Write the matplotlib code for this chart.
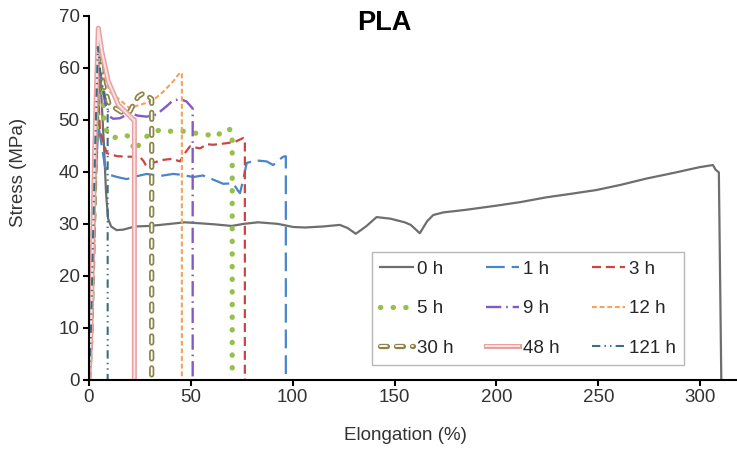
import matplotlib
matplotlib.use("Agg")
import matplotlib.pyplot as plt
import matplotlib.patheffects as pe

plt.rcParams['font.family'] = ['Liberation Sans', 'DejaVu Sans']
plt.rcParams['lines.scale_dashes'] = False

labels = ["0 h", "1 h", "3 h", "5 h", "9 h", "12 h", "30 h", "48 h", "121 h"]

x0 = [0, 1, 2.5, 4.5, 6, 7.5, 8.5, 9.5, 11, 13.7, 17, 22.7, 30, 40, 47.2, 55, 62, 70.1, 76, 83.1, 92.8,
      100.3, 106, 115, 123.2, 127, 131, 136, 141.2, 148, 155, 158, 162.4, 166, 169, 173.9, 185, 200,
      212, 224.5, 237, 249, 261, 273.5, 287, 299.7, 306.2, 307.5, 309.1, 310.3]
y0 = [0, 10, 35, 60, 56, 45, 36, 31, 29.5, 28.8, 28.9, 29.5, 29.6, 30, 30.3, 30.1, 29.9, 29.6, 30, 30.3, 30,
      29.4, 29.3, 29.5, 29.8, 29.2, 28.1, 29.5, 31.3, 31, 30.3, 29.8, 28.2, 30.5, 31.7, 32.2, 32.7, 33.5,
      34.2, 35.1, 35.8, 36.5, 37.5, 38.7, 39.8, 40.9, 41.3, 40.4, 39.9, 0]

x1 = [0, 1, 3, 4.7, 6, 8, 10.4, 14, 18.6, 23, 28.4, 35, 41.5, 46, 51.3, 56, 61.1, 66, 70.9, 73, 74.2,
      75.5, 77.5, 82, 87.3, 90.5, 93, 95.4, 96.7, 96.7]
y1 = [0, 8, 35, 49, 46, 41, 39.4, 39, 38.6, 39.1, 39.6, 39.2, 39.6, 39.4, 39, 39.3, 38.5, 37.7, 37.8, 36.5, 35.9,
      38, 41.7, 42.2, 42, 41.3, 42.2, 42.9, 43, 0]

x3 = [0, 1, 3, 4.5, 5.5, 8.8, 14, 20.2, 25.1, 27, 28.4, 32, 36.6, 41, 44.8, 47, 49.7, 54.6, 58, 61.1,
      67.6, 72, 75.8, 76.6, 76.6]
y3 = [0, 8, 38, 57, 48, 43.6, 43, 42.9, 42.9, 42, 41, 41.8, 42.3, 42.5, 42, 43.5, 44.9, 44.5, 45.3, 45.2,
      45.5, 45.8, 46.5, 46.3, 0]

x5 = [0, 1, 3, 5, 6.4, 7.5, 9, 12, 17, 20, 22.7, 25, 28.4, 35, 40, 44.8, 52.9, 57, 61.1, 63, 66, 70.1, 70.4, 70.4]
y5 = [0, 8, 40, 60, 64, 50, 47.5, 46.5, 47.1, 46.8, 43.9, 45.5, 46.8, 48.1, 47.8, 47.9, 47.4, 47.1, 47.1, 46.8,
      48.2, 48.1, 47.8, 0]

x9 = [0, 1, 3, 5, 7, 8, 10.4, 12, 15.3, 20.2, 24, 28.4, 33.2, 38.2, 41, 44.8, 48, 50.5, 51, 51]
y9 = [0, 8, 40, 61, 56, 53.2, 50.6, 50.2, 50.3, 51.3, 50.8, 50.6, 51, 52.6, 53.6, 54, 53.5, 52.4, 52.2, 0]

x12 = [0, 1, 3, 5, 7, 10.4, 15.3, 20.2, 25.1, 28, 31.7, 36.6, 41.5, 44.8, 45.7, 45.7]
y12 = [0, 8, 40, 65, 59, 55.4, 53.8, 52.2, 52.9, 53.2, 53.8, 55.4, 57.4, 59.1, 58.8, 0]

x30 = [0, 1, 3, 5, 7, 10, 14, 18, 20.2, 22, 24.3, 26.8, 29.2, 30.9, 30.9]
y30 = [0, 8, 40, 64, 57, 53, 52, 51, 51.6, 53, 54.5, 55.1, 54.5, 54, 0]

x48 = [0, 1, 3, 4.7, 6.5, 9.6, 14.5, 19.4, 21.9, 22.4, 22.4]
y48 = [0, 8, 45, 67.6, 63, 57.4, 52.9, 51, 50, 50, 0]

x121 = [0, 1, 3, 4.5, 6, 7.5, 9, 9.3, 9.3]
y121 = [0, 8, 42, 64, 58, 55, 53, 52.5, 0]

xs = [x0, x1, x3, x5, x9, x12, x30, x48, x121]
ys = [y0, y1, y3, y5, y9, y12, y30, y48, y121]

x_ticks = [0, 50, 100, 150, 200, 250, 300]
y_ticks = [0, 10, 20, 30, 40, 50, 60, 70]

FS = 13.5

fig = plt.figure(figsize=(7.37, 4.49), dpi=100)
ax = fig.add_axes([88.7 / 737, 1 - 380 / 449, (737 - 88.7) / 737, (380 - 15.7) / 449])

styles = [
    dict(color='#6e6e6e', lw=1.6, ls='-'),
    dict(color='#4a85cc', lw=1.6, dashes=(13.5, 5)),
    dict(color='#cc4444', lw=1.6, dashes=(6.5, 3.5)),
    dict(color='#95c14b', lw=3.8, dashes=(0.2, 8.9), dash_capstyle='round'),
    dict(color='#8458c8', lw=1.7, dashes=(11, 3.5, 1.2, 3.5)),
    dict(color='#f8a15a', lw=1.5, dashes=(3.5, 2)),
    dict(color='white', lw=1.3, dashes=(5, 6.5), dash_capstyle='round',
         path_effects=[pe.Stroke(linewidth=3.8, foreground='#8b8448', capstyle='round'), pe.Normal()]),
    dict(color='#fbe3e3', lw=1.4, ls='-',
         path_effects=[pe.Stroke(linewidth=3.6, foreground='#e8a0a0'), pe.Normal()]),
    dict(color='#3b6e80', lw=1.5, dashes=(6, 3, 1, 3, 1, 3)),
]

handles = []
for x, y, lab, st in zip(xs, ys, labels, styles):
    h, = ax.plot(x, y, label=lab, solid_joinstyle='round', **st)
    handles.append(h)

ax.set_xlim(0, 318)
ax.set_ylim(0, 70)
ax.set_xticks(x_ticks)
ax.set_yticks(y_ticks)
ax.spines['top'].set_visible(False)
ax.spines['right'].set_visible(False)
for s in ['left', 'bottom']:
    ax.spines[s].set_linewidth(1.5)
    ax.spines[s].set_color('black')
ax.tick_params(axis='both', direction='out', length=4, width=1.5, labelsize=FS,
               labelcolor='#333333', pad=2.5)

ax.set_xlabel('Elongation (%)', fontsize=FS, color='#333333')
ax.set_ylabel('Stress (MPa)', fontsize=FS, color='#333333')
ax.xaxis.set_label_coords((405 - 88.7) / 648.3, (380 - 427) / 364.3)
ax.yaxis.set_label_coords((27 - 88.7) / 648.3, (380 - 172) / 364.3)

fig.text(384 / 737, 1 - 22.5 / 449, 'PLA', fontsize=19.5, fontweight='bold',
         ha='center', va='center', color='black')

order = [0, 3, 6, 1, 4, 7, 2, 5, 8]
leg = ax.legend([handles[i] for i in order], [labels[i] for i in order], ncol=3,
                loc='upper left', bbox_to_anchor=((372 - 88.7) / 648.3, (380 - 252) / 364.3),
                borderaxespad=0, fontsize=FS, frameon=True, fancybox=False,
                edgecolor='#a6a6a6', handlelength=1.75, handletextpad=0.2,
                columnspacing=1.75, labelspacing=1.2, borderpad=0.45)
leg.get_frame().set_linewidth(1.0)
for t in leg.get_texts():
    t.set_color('#262626')

fig.savefig('out.png', dpi=100)
